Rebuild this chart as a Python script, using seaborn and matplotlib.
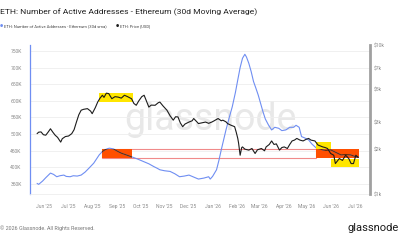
import numpy as np
import pandas as pd
import matplotlib
matplotlib.use("Agg")
import matplotlib.pyplot as plt
import matplotlib.dates as mdates
from matplotlib.patches import Rectangle
from matplotlib.ticker import FixedLocator, FixedFormatter
import seaborn as sns

# active addresses, 30d sma (thousands)
addr_dates = ["2025-05-23", "2025-05-25", "2025-05-30", "2025-06-03", "2025-06-09", "2025-06-13",
              "2025-06-17", "2025-06-21", "2025-06-26", "2025-06-29", "2025-07-04", "2025-07-08",
              "2025-07-13", "2025-07-18", "2025-07-23", "2025-07-28", "2025-08-03", "2025-08-10",
              "2025-08-14", "2025-08-17", "2025-08-21", "2025-08-23", "2025-08-28", "2025-09-02",
              "2025-09-07", "2025-09-13", "2025-09-19", "2025-09-27", "2025-10-05", "2025-10-12",
              "2025-10-18", "2025-10-23", "2025-10-26", "2025-11-01", "2025-11-08", "2025-11-14",
              "2025-11-20", "2025-11-26", "2025-12-02", "2025-12-08", "2025-12-14", "2025-12-21",
              "2025-12-27", "2025-12-29", "2026-01-01", "2026-01-06", "2026-01-09", "2026-01-12",
              "2026-01-15", "2026-01-18", "2026-01-22", "2026-01-26", "2026-01-30", "2026-02-02",
              "2026-02-05", "2026-02-08", "2026-02-11", "2026-02-13", "2026-02-16", "2026-02-19",
              "2026-02-22", "2026-02-25", "2026-02-28", "2026-03-03", "2026-03-06", "2026-03-09",
              "2026-03-13", "2026-03-17", "2026-03-21", "2026-03-26", "2026-03-30", "2026-04-04",
              "2026-04-09", "2026-04-14", "2026-04-17", "2026-04-21", "2026-04-24", "2026-04-28",
              "2026-05-03", "2026-05-07", "2026-05-13", "2026-05-17", "2026-05-21", "2026-05-25",
              "2026-05-31", "2026-06-06", "2026-06-13", "2026-06-19", "2026-06-25", "2026-06-30",
              "2026-07-05"]
addr_k = [351, 348, 358, 368, 382, 378,
          371, 374, 376, 372, 371, 374,
          373, 376, 385, 397, 412, 437,
          447, 452, 456, 457, 455, 448,
          442, 437, 432, 425, 417, 410,
          402, 396, 392, 389, 387, 380,
          371, 373, 376, 370, 364, 367,
          371, 364, 372, 392, 420, 452,
          482, 512, 548, 582, 625, 663,
          700, 728, 740, 732, 713, 688,
          658, 638, 617, 592, 567, 545,
          527, 512, 520, 517, 510, 512,
          520, 520, 526, 520, 492, 488,
          482, 470, 457, 455, 452, 450,
          452, 445, 437, 438, 437, 433,
          430]

# ETH price (USD)
price_dates = ["2025-05-23", "2025-05-25", "2025-05-28", "2025-05-31", "2025-06-03", "2025-06-06",
               "2025-06-09", "2025-06-12", "2025-06-15", "2025-06-18", "2025-06-22", "2025-06-24",
               "2025-06-28", "2025-07-02", "2025-07-06", "2025-07-09", "2025-07-12", "2025-07-15",
               "2025-07-18", "2025-07-21", "2025-07-26", "2025-07-30", "2025-08-01", "2025-08-05",
               "2025-08-08", "2025-08-11", "2025-08-14", "2025-08-16", "2025-08-19", "2025-08-22",
               "2025-08-26", "2025-08-30", "2025-09-03", "2025-09-07", "2025-09-11", "2025-09-15",
               "2025-09-20", "2025-09-23", "2025-09-26", "2025-09-29", "2025-10-03", "2025-10-06",
               "2025-10-09", "2025-10-12", "2025-10-15", "2025-10-20", "2025-10-24", "2025-10-26",
               "2025-10-30", "2025-11-04", "2025-11-08", "2025-11-12", "2025-11-15", "2025-11-18",
               "2025-11-21", "2025-11-24", "2025-11-27", "2025-12-02", "2025-12-06", "2025-12-08",
               "2025-12-12", "2025-12-14", "2025-12-18", "2025-12-23", "2025-12-27", "2025-12-31",
               "2026-01-03", "2026-01-08", "2026-01-12", "2026-01-14", "2026-01-18", "2026-01-20",
               "2026-01-24", "2026-01-29", "2026-01-31", "2026-02-02", "2026-02-03", "2026-02-05",
               "2026-02-07", "2026-02-08", "2026-02-11", "2026-02-16", "2026-02-20", "2026-02-24",
               "2026-02-27", "2026-03-04", "2026-03-08", "2026-03-10", "2026-03-14", "2026-03-17",
               "2026-03-20", "2026-03-23", "2026-03-27", "2026-03-30", "2026-04-02", "2026-04-06",
               "2026-04-09", "2026-04-12", "2026-04-15", "2026-04-18", "2026-04-22", "2026-04-26",
               "2026-04-30", "2026-05-03", "2026-05-06", "2026-05-11", "2026-05-15", "2026-05-18",
               "2026-05-21", "2026-05-24", "2026-05-27", "2026-05-31", "2026-06-04", "2026-06-06",
               "2026-06-11", "2026-06-15", "2026-06-19", "2026-06-23", "2026-06-26", "2026-06-29",
               "2026-07-02", "2026-07-05"]
price_usd = [2540, 2600, 2610, 2500, 2480, 2600,
             2740, 2600, 2480, 2400, 2230, 2350,
             2430, 2450, 2540, 2700, 3040, 3400,
             3650, 3700, 3740, 3600, 3460, 3800,
             4140, 4400, 4600, 4450, 4750, 4720,
             4360, 4500, 4470, 4400, 4600, 4500,
             4360, 4050, 3940, 4200, 4500, 4600,
             4200, 3830, 3950, 3940, 4100, 4140,
             3900, 3650, 3350, 3130, 3300, 3290,
             3000, 2830, 2950, 3040, 3100, 3210,
             3050, 2970, 3000, 3040, 2980, 3040,
             3100, 3210, 3100, 3130, 3050, 2970,
             2900, 2830, 2600, 2360, 2200, 1820,
             2050, 2070, 2000, 1970, 2020, 1870,
             1980, 2020, 1950, 2070, 2150, 2270,
             2150, 2170, 1970, 2050, 2070, 2020,
             2150, 2270, 2300, 2360, 2300, 2270,
             2330, 2360, 2300, 2270, 2130, 2100,
             2070, 2050, 2020, 1870, 1820, 1600,
             1730, 1680, 1820, 1730, 1600, 1600,
             1820, 1760]

# highlight boxes: (start, end, low, high)
orange_boxes = [("2025-08-14", "2025-09-20", 427, 456),
                ("2026-05-13", "2026-07-06", 427, 456)]
band = ("2025-08-14", "2026-05-13", 427, 456)
yellow_boxes = [("2025-08-10", "2025-09-22", 4150, 4770),
                ("2026-05-12", "2026-06-01", 2000, 2235),
                ("2026-06-01", "2026-07-06", 1515, 1730)]

left_ticks = [350, 400, 450, 500, 550, 600, 650, 700, 750]
right_ticks = [1000, 2000, 3000, 5000, 7000, 10000]
right_labels = ["$1k", "$2k", "$3k", "$5k", "$7k", "$10k"]

BLUE = "#6f8ef2"
BLACK = "#1c1c1c"
ORANGE = "#ff4f00"
YELLOW = "#ffe600"
GREY = "#9a9a9a"

sns.set_style("white")
plt.rcParams["font.family"] = ["Roboto", "DejaVu Sans"]

df_a = pd.DataFrame({"date": pd.to_datetime(addr_dates), "addr": addr_k})
df_p = pd.DataFrame({"date": pd.to_datetime(price_dates), "price": price_usd})

fig = plt.figure(figsize=(4, 2.4), dpi=100)
ax = fig.add_axes([0.075, 0.1917, 0.85, 0.6208])
ax2 = ax.twinx()

# watermark
ax.text(0.53, 0.5, "glassnode", transform=ax.transAxes, ha="center", va="center",
        fontsize=27, color="#e8e8e8", zorder=0)

sns.lineplot(data=df_a, x="date", y="addr", ax=ax, color=BLUE, lw=0.8, zorder=3)
ax.set_ylim(319, 768)

d = mdates.date2num
# red band outline
b0, b1, blo, bhi = band
ax.add_patch(Rectangle((d(pd.Timestamp(b0)), blo), d(pd.Timestamp(b1)) - d(pd.Timestamp(b0)),
                       bhi - blo, fill=False, ec="#f08a8a", lw=0.8, zorder=2))
for s, e, lo, hi in orange_boxes:
    r = Rectangle((d(pd.Timestamp(s)), lo), d(pd.Timestamp(e)) - d(pd.Timestamp(s)), hi - lo,
                  fc=ORANGE, ec="none", zorder=2)
    ax.add_patch(r)
    # blue line seen through the marker (multiply look)
    ln, = ax.plot(df_a["date"], df_a["addr"], color="#6e2a00", lw=0.8, zorder=4)
    ln.set_clip_path(r)

ax2.set_yscale("log")
for s, e, lo, hi in yellow_boxes:
    ax2.add_patch(Rectangle((d(pd.Timestamp(s)), lo), d(pd.Timestamp(e)) - d(pd.Timestamp(s)),
                            hi - lo, fc=YELLOW, ec="none", zorder=1))
sns.lineplot(data=df_p, x="date", y="price", ax=ax2, color=BLACK, lw=0.8, zorder=3)
ax2.set_ylim(1000, 10000)

ax.set_xlim(pd.Timestamp("2025-05-14"), pd.Timestamp("2026-07-20"))

# axes styling
ax.set_xlabel("")
ax.set_ylabel("")
ax2.set_ylabel("")
ax.yaxis.set_major_locator(FixedLocator(left_ticks))
ax.yaxis.set_major_formatter(FixedFormatter([f"{v}K" for v in left_ticks]))
ax.grid(axis="y", color="#eeeeee", lw=0.6)
ax.set_axisbelow(True)
ax2.yaxis.set_major_locator(FixedLocator(right_ticks))
ax2.yaxis.set_major_formatter(FixedFormatter(right_labels))
ax2.yaxis.set_minor_locator(FixedLocator([]))

ax.xaxis.set_major_locator(mdates.MonthLocator())
ax.xaxis.set_major_formatter(mdates.DateFormatter("%b '%y"))
ax.tick_params(axis="x", labelsize=3.6, colors=GREY, length=2, width=0.4, pad=5,
               labelcolor="#8a8a8a")
ax.tick_params(axis="y", labelsize=3.6, length=0, pad=6, labelcolor="#8a8a8a")
ax2.tick_params(axis="y", which="both", labelsize=3.6, length=0, pad=3, labelcolor="#8a8a8a")

for a in (ax, ax2):
    for sp in a.spines.values():
        sp.set_visible(False)
ax.spines["left"].set_visible(True)
ax.spines["left"].set_color(BLUE)
ax.spines["left"].set_linewidth(0.9)
ax.spines["bottom"].set_visible(True)
ax.spines["bottom"].set_color("#eeeeee")
ax.spines["bottom"].set_linewidth(0.6)
ax2.spines["right"].set_visible(True)
ax2.spines["right"].set_color("#a0a0a0")
ax2.spines["right"].set_linewidth(2)

# header and footer
fig.text(0.0, 0.948, "ETH: Number of Active Addresses - Ethereum (30d Moving Average)",
         fontsize=6.1, color="#222222", va="center", ha="left")
fig.text(0.0, 0.89, "●", fontsize=2.6, color=BLUE, va="center")
fig.text(0.01, 0.89, "ETH: Number of Active Addresses - Ethereum (30d sma)",
         fontsize=3.0, color="#444444", va="center")
fig.text(0.29, 0.89, "●", fontsize=2.6, color=BLACK, va="center")
fig.text(0.301, 0.89, "ETH: Price [USD]", fontsize=3.0, color="#444444", va="center")
fig.text(0.0, 0.05, "© 2026 Glassnode. All Rights Reserved.", fontsize=3.9,
         color="#777777", va="center")
fig.text(0.998, 0.048, "glassnode", fontsize=8, color="#1a1a1a", va="center", ha="right")

fig.savefig("out.png", dpi=100)
